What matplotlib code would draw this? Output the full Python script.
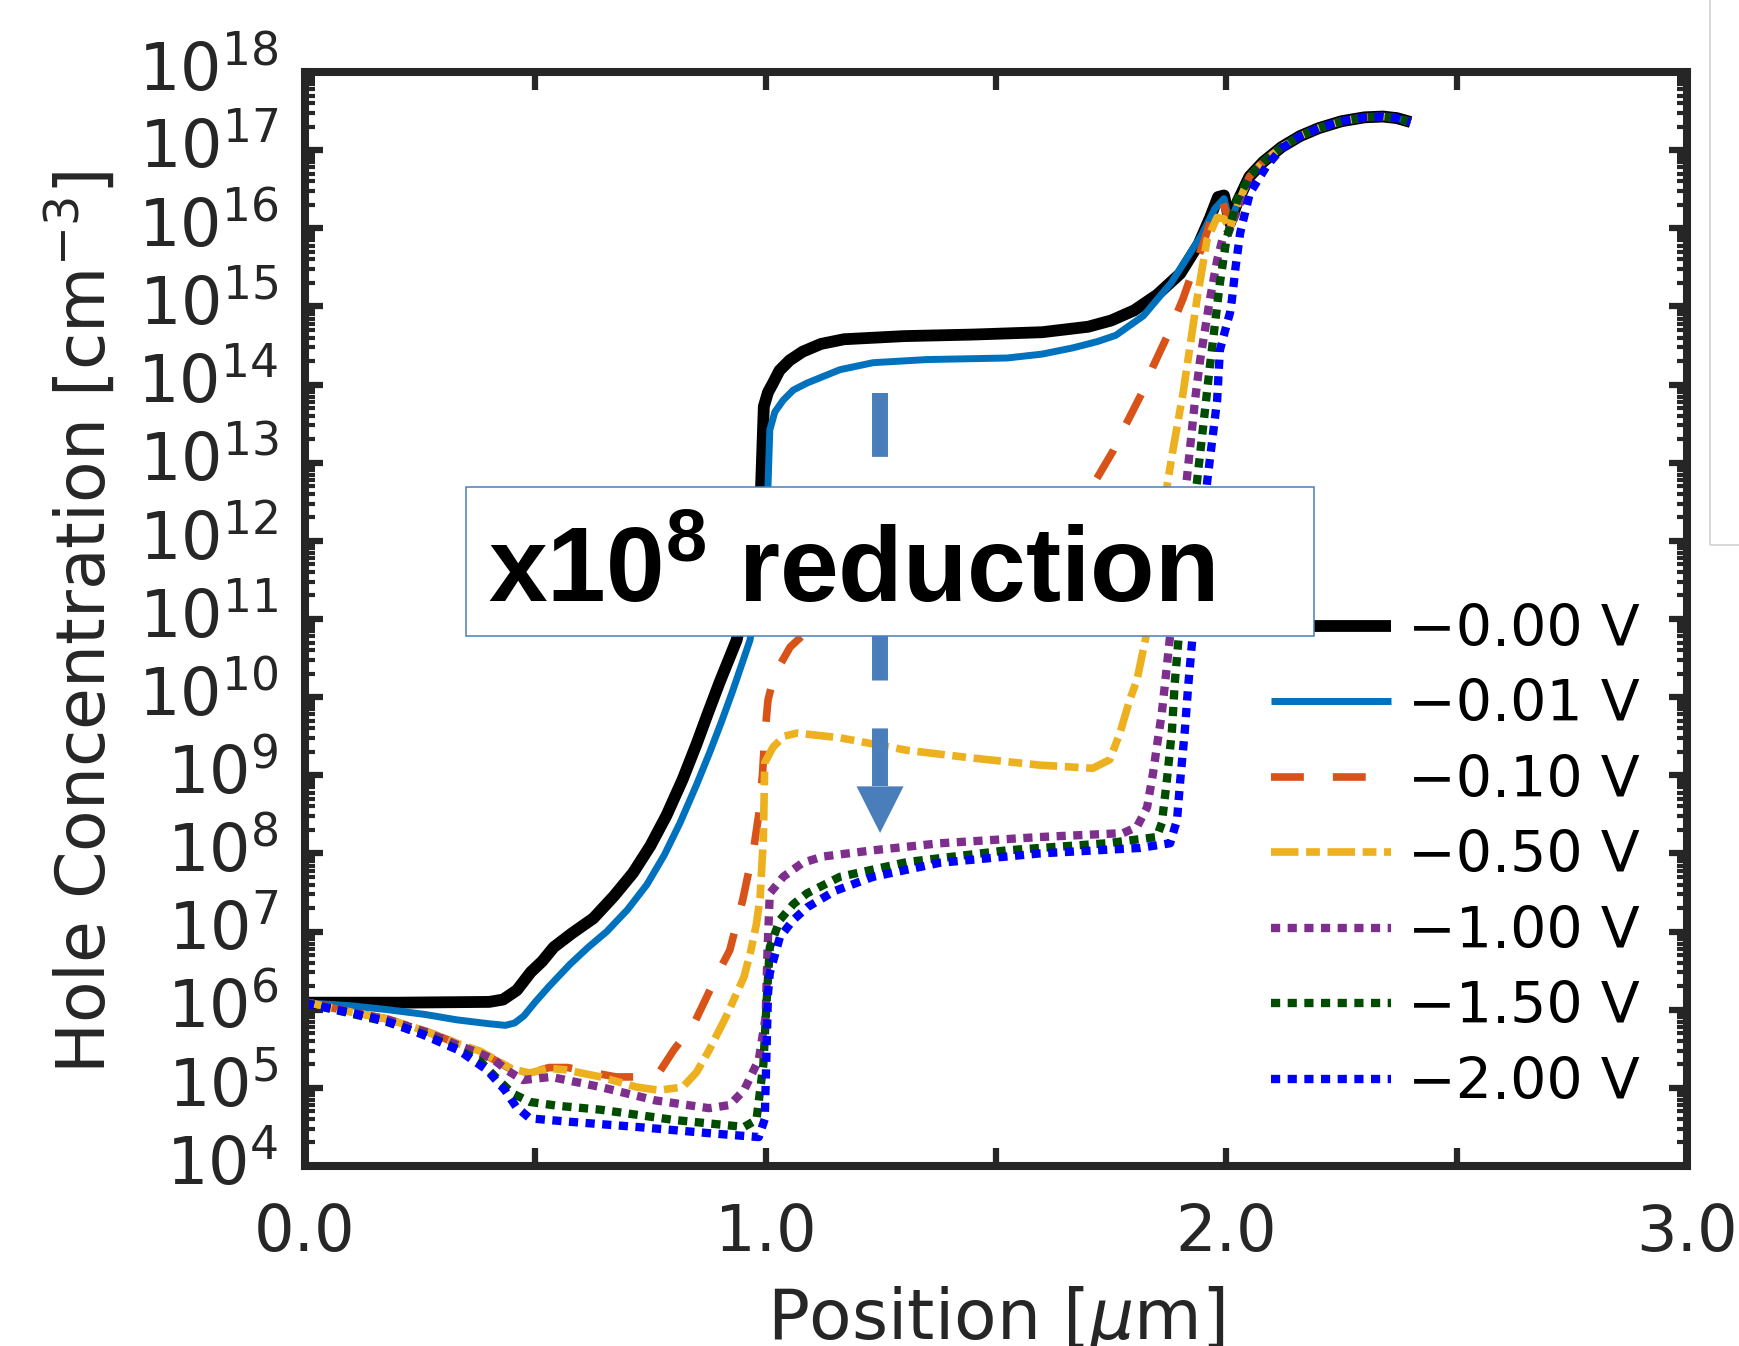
import numpy as np
import matplotlib
matplotlib.use('Agg')
import matplotlib.pyplot as plt
from matplotlib.lines import Line2D
from matplotlib.patches import Rectangle, Polygon
from matplotlib.ticker import FixedLocator, LogLocator, FuncFormatter, NullFormatter

plt.rcParams['font.family'] = ['DejaVu Sans']

##########################################
# data: position [um] and log10(hole concentration [cm^-3])
##########################################

tail_x = [2.05, 2.08, 2.12, 2.16, 2.2, 2.25, 2.3, 2.34, 2.37, 2.4]
tail_y = [16.66, 16.85, 17.04, 17.18, 17.28, 17.37, 17.42, 17.43, 17.41, 17.36]

v000_x = [0, 0.2, 0.4, 0.43, 0.46, 0.49, 0.515, 0.54, 0.58, 0.626, 0.67, 0.712, 0.75, 0.785,
          0.82, 0.85, 0.875, 0.9, 0.937, 0.96, 0.98, 0.99, 0.996, 1.005, 1.016, 1.03, 1.052,
          1.08, 1.12, 1.17, 1.3, 1.45, 1.6, 1.7, 1.75, 1.8, 1.85, 1.9, 1.94, 1.965, 1.982,
          1.995, 2.008, 2.025]
v000_y = [6.09, 6.09, 6.1, 6.13, 6.25, 6.48, 6.62, 6.8, 6.98, 7.17, 7.45, 7.75, 8.1, 8.49,
          8.95, 9.4, 9.8, 10.19, 10.73, 11.4, 12.1, 12.69, 13.72, 13.9, 14.02, 14.18, 14.31,
          14.42, 14.52, 14.58, 14.62, 14.64, 14.67, 14.74, 14.82, 14.95, 15.15, 15.42, 15.8,
          16.14, 16.4, 16.42, 16.07, 16.35]

v001_x = [0, 0.1, 0.18, 0.26, 0.33, 0.4, 0.435, 0.455, 0.475, 0.5, 0.53, 0.575, 0.615, 0.655,
          0.7, 0.742, 0.78, 0.814, 0.85, 0.879, 0.905, 0.929, 0.966, 0.985, 0.998, 1.005,
          1.009, 1.02, 1.038, 1.06, 1.09, 1.161, 1.233, 1.35, 1.524, 1.6, 1.667, 1.72, 1.76,
          1.82, 1.88, 1.945, 1.975, 1.995, 2.008, 2.025]
v001_y = [6.09, 6.05, 6.0, 5.94, 5.87, 5.82, 5.8, 5.83, 5.92, 6.1, 6.3, 6.58, 6.8, 7.0,
          7.28, 7.6, 7.98, 8.39, 8.88, 9.3, 9.7, 10.09, 10.73, 11.4, 12.3, 12.69,
          13.42, 13.65, 13.8, 13.93, 14.02, 14.19, 14.28, 14.32, 14.34, 14.39, 14.47, 14.55,
          14.63, 14.88, 15.3, 15.9, 16.25, 16.38, 16.07, 16.33]

v010_x = [0, 0.1, 0.18, 0.26, 0.33, 0.38, 0.42, 0.45, 0.488, 0.53, 0.57, 0.62, 0.675, 0.72,
          0.768, 0.8, 0.845, 0.9, 0.922, 0.95, 0.975, 0.985, 0.993, 0.998, 1.005, 1.015,
          1.025, 1.053, 1.1, 1.2, 1.3, 1.4, 1.5, 1.6, 1.71, 1.755, 1.776, 1.82, 1.84, 1.878,
          1.906, 1.928, 1.95, 1.971, 1.99, 2.008, 2.025]
v010_y = [6.1, 5.97, 5.88, 5.73, 5.57, 5.46, 5.33, 5.23, 5.19, 5.26, 5.26, 5.2, 5.14, 5.14,
          5.19, 5.48, 5.83, 6.51, 6.76, 7.4, 8.1, 8.5, 9.0, 9.5, 9.96, 10.2,
          10.35, 10.64, 10.9, 11.2, 11.45, 11.7, 11.95, 12.25, 12.71, 13.16, 13.42, 13.93,
          14.22, 14.7, 15.1, 15.47, 15.8, 16.2, 16.36, 16.07, 16.33]

v050_x = [0, 0.1, 0.18, 0.26, 0.33, 0.38, 0.42, 0.45, 0.488, 0.528, 0.566, 0.642, 0.72,
          0.768, 0.82, 0.85, 0.877, 0.914, 0.953, 0.968, 0.98, 0.988, 0.995, 0.998, 1.016,
          1.04, 1.068, 1.161, 1.307, 1.45, 1.595, 1.71, 1.747, 1.769, 1.79, 1.806, 1.83,
          1.85, 1.871, 1.884, 1.906, 1.936, 1.958, 1.98, 1.995, 2.008, 2.025]
v050_y = [6.1, 5.97, 5.88, 5.73, 5.57, 5.47, 5.34, 5.24, 5.19, 5.25, 5.23, 5.14, 5.01,
          4.97, 5.01, 5.2, 5.48, 5.91, 6.42, 6.76, 7.1, 7.44, 8.2, 9.16, 9.36,
          9.5, 9.54, 9.48, 9.32, 9.22, 9.13, 9.09, 9.2, 9.54, 9.96, 10.22, 10.9,
          11.7, 12.69, 13.16, 13.89, 15.08, 15.85, 16.14, 16.12, 16.0, 16.3]

v100_x = [0, 0.1, 0.18, 0.26, 0.33, 0.38, 0.41, 0.44, 0.473, 0.534, 0.642, 0.76, 0.877,
          0.922, 0.953, 0.985, 1.0, 1.004, 1.009, 1.038, 1.08, 1.124, 1.233, 1.378, 1.595,
          1.776, 1.806, 1.828, 1.841, 1.849, 1.86, 1.867, 1.88, 1.895, 1.914, 1.932, 1.943,
          1.964, 1.98, 1.993, 2.005, 2.025]
v100_y = [6.1, 5.97, 5.87, 5.72, 5.55, 5.44, 5.36, 5.22, 5.1, 5.14, 5.01, 4.84, 4.74,
          4.78, 4.97, 5.36, 5.91, 6.76, 7.49, 7.7, 7.88, 7.96, 8.04, 8.13, 8.21,
          8.26, 8.34, 8.59, 9.03, 9.36, 9.8, 10.18, 10.9, 11.8, 12.78, 13.8, 14.31,
          15.08, 15.59, 15.89, 15.95, 16.25]

v150_x = [0, 0.1, 0.18, 0.26, 0.33, 0.38, 0.42, 0.45, 0.488, 0.55, 0.642, 0.8, 0.953, 0.98,
          0.995, 1.003, 1.009, 1.031, 1.06, 1.09, 1.161, 1.307, 1.524, 1.741, 1.849, 1.86,
          1.871, 1.882, 1.888, 1.9, 1.915, 1.936, 1.964, 1.986, 2.0, 2.023]
v150_y = [6.09, 5.95, 5.84, 5.68, 5.5, 5.34, 5.1, 4.93, 4.82, 4.77, 4.72, 4.59, 4.5, 4.59,
          5.3, 6.2, 6.8, 7.15, 7.35, 7.49, 7.7, 7.89, 8.04, 8.13, 8.21, 8.39,
          8.94, 9.58, 10.18, 11.0, 11.9, 12.74, 14.22, 15.3, 15.85, 16.36]

v200_x = [0, 0.1, 0.178, 0.256, 0.334, 0.395, 0.434, 0.458, 0.488, 0.566, 0.72, 0.877,
          0.985, 0.998, 1.002, 1.005, 1.009, 1.031, 1.06, 1.09, 1.15, 1.233, 1.378, 1.595,
          1.812, 1.878, 1.893, 1.9, 1.91, 1.917, 1.93, 1.945, 1.958, 1.98, 1.986, 2.0,
          2.008, 2.012, 2.02, 2.03, 2.051, 2.088, 2.12]
v200_y = [6.08, 5.96, 5.85, 5.68, 5.48, 5.23, 4.97, 4.76, 4.61, 4.57, 4.5, 4.42,
          4.37, 4.6, 5.5, 6.2, 6.47, 6.93, 7.15, 7.31, 7.52, 7.7, 7.88, 8.0,
          8.07, 8.13, 8.43, 8.94, 9.58, 10.13, 11.0, 11.9, 12.74, 13.8, 14.44, 14.75,
          14.92, 15.08, 15.5, 15.94, 16.45, 16.8, 17.02]

labels = ['\u22120.00 V', '\u22120.01 V', '\u22120.10 V', '\u22120.50 V',
          '\u22121.00 V', '\u22121.50 V', '\u22122.00 V']

series = [(v000_x, v000_y), (v001_x, v001_y), (v010_x, v010_y), (v050_x, v050_y),
          (v100_x, v100_y), (v150_x, v150_y), (v200_x, v200_y)]

styles = [
    dict(color='black', lw=8.5),
    dict(color='#0072BD', lw=5),
    dict(color='#D95319', lw=5.5, dashes=(4.3, 3.8)),
    dict(color='#EDB120', lw=5.5, dashes=(3.6, 1.0, 1.8, 1.0)),
    dict(color='#7E2F8E', lw=6, dashes=(1.1, 0.9)),
    dict(color='#004c00', lw=6, dashes=(1.1, 0.9)),
    dict(color='#0000FF', lw=6, dashes=(1.1, 0.9)),
]

##########################################
# figure
##########################################

W, H = 1740, 1346
fig = plt.figure(figsize=(W / 100, H / 100), dpi=100)
ax = fig.add_axes([305 / W, 1 - 1166 / H, 1382 / W, 1094 / H])

handles = []
for (xs, ys), st, lab in zip(series, styles, labels):
    xx = list(xs)
    yy = list(ys)
    # every curve runs into the same tail past x = 2
    for tx, ty in zip(tail_x, tail_y):
        if tx > xx[-1]:
            xx.append(tx)
            yy.append(ty)
    ln, = ax.plot(xx, 10 ** np.array(yy), label=lab, solid_capstyle='butt',
                  dash_capstyle='butt', **st)
    handles.append(ln)

ax.set_yscale('log')
ax.set_xlim(0, 3)
ax.set_ylim(1e4, 1e18)

ink = '#262626'
for sp in ax.spines.values():
    sp.set_linewidth(5.8)
    sp.set_color(ink)

ax.yaxis.set_major_locator(FixedLocator(10.0 ** np.arange(4, 19)))
ax.yaxis.set_major_formatter(FuncFormatter(lambda v, p: r'$\mathregular{10^{%d}}$' % round(np.log10(v))))
ax.yaxis.set_minor_locator(LogLocator(base=10, subs=np.arange(2, 10), numticks=30))
ax.yaxis.set_minor_formatter(NullFormatter())

ax.set_xticks(np.arange(0, 3.01, 0.5))
ax.set_xticklabels(['0.0', '', '1.0', '', '2.0', '', '3.0'])

ax.tick_params(which='both', direction='in', top=True, right=True, colors=ink)
ax.tick_params(which='major', length=13, width=4.5, labelsize=46)
ax.tick_params(axis='y', which='major', labelsize=47, pad=19)
ax.tick_params(which='minor', length=7, width=3)
ax.tick_params(axis='x', which='major', pad=26)
plt.setp(ax.get_yticklabels(), va='center')

ax.set_ylabel(r'Hole Concentration [cm$^{\mathregular{-3}}$]', fontsize=49, color=ink)
ax.yaxis.set_label_coords(-0.1346, 0.497)
ax.set_xlabel(r'Position [$\mu$m]', fontsize=50, color=ink)
ax.xaxis.set_label_coords(0.5, -0.108)
ax.xaxis.label.set_va('top')

leg = ax.legend(handles, labels, loc='upper left', bbox_to_anchor=(0.699, 0.515),
                frameon=False, fontsize=41, handlelength=2.1, handletextpad=0.3,
                labelspacing=0.36, borderpad=0, borderaxespad=0)

# dashed arrow
arrow_c = '#4A7EBB'
ax_x = 0.4161
ax.add_line(Line2D([ax_x, ax_x], [0.7066, 0.347], transform=ax.transAxes, color=arrow_c,
                   lw=11.5, dashes=(4, 3), dash_capstyle='butt', zorder=5.5))
ax.add_patch(Polygon([(ax_x - 0.017, 0.347), (ax_x + 0.017, 0.347), (ax_x, 0.3044)],
                     closed=True, transform=ax.transAxes, fc=arrow_c, ec='none', zorder=5.5))

# annotation box
ax.add_patch(Rectangle((0.1165, 0.4845), 0.7301 - 0.1165, 0.6207 - 0.4845, transform=ax.transAxes,
                       fc='white', ec=arrow_c, lw=1.1, zorder=6, clip_on=False))
ax.text(0.1324, 0.5155, r'x$\mathregular{10^{8}}$ reduction', transform=ax.transAxes,
        fontfamily='Liberation Sans', fontweight='bold', fontsize=76, color='black',
        ha='left', va='baseline', zorder=7)

# edge of a neighbouring panel, top right
fig.add_artist(Rectangle((1710 / W, 1 - 545 / H), 0.2, 0.6, transform=fig.transFigure,
                         fill=False, ec='#d4d4d4', lw=1.3))

fig.savefig('out.png', dpi=100)
